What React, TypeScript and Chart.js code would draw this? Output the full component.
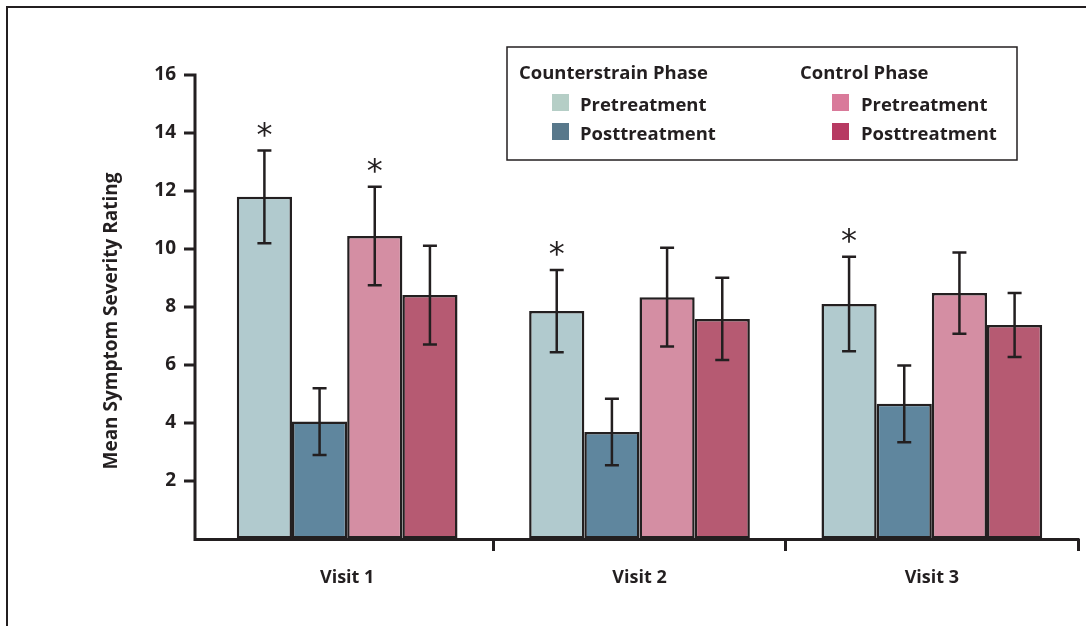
import React, { useEffect, useRef } from "react";
import { Chart, registerables } from "chart.js";

Chart.register(...registerables);

const visits = ["Visit 1", "Visit 2", "Visit 3"];
const yTicks = [2, 4, 6, 8, 10, 12, 14, 16];

const csPre = [11.8, 7.86, 8.1];
const csPreErr = [1.6, 1.42, 1.63];
const csPost = [4.05, 3.69, 4.66];
const csPostErr = [1.15, 1.15, 1.32];
const ctPre = [10.45, 8.34, 8.48];
const ctPreErr = [1.7, 1.7, 1.4];
const ctPost = [8.41, 7.59, 7.38];
const ctPostErr = [1.7, 1.42, 1.1];

const csPreSig = [true, true, true];
const csPostSig = [false, false, false];
const ctPreSig = [true, false, false];
const ctPostSig = [false, false, false];

const seriesLabels = ["Pretreatment", "Posttreatment", "Pretreatment", "Posttreatment"];
const groupTitles = ["Counterstrain Phase", "Control Phase"];
const yTitle = "Mean Symptom Severity Rating";

const barColors = ["#b1cace", "#5f869e", "#d48ea3", "#b65a72"];
const swatchColors = ["#b5cec6", "#58788b", "#d97a9a", "#b73a62"];
const INK = "#231f20";
const FONT = "'Open Sans', 'DejaVu Sans', sans-serif";

const errs = [csPreErr, csPostErr, ctPreErr, ctPostErr];
const sigs = [csPreSig, csPostSig, ctPreSig, ctPostSig];

const AXIS_X = 195;

const overlayPlugin = {
  id: "overlay",
  beforeDraw(chart: any) {
    const ctx = chart.ctx;
    ctx.save();
    ctx.fillStyle = "#ffffff";
    ctx.fillRect(0, 0, chart.width, chart.height);
    ctx.restore();
  },
  afterDraw(chart: any) {
    const ctx = chart.ctx;
    const yScale = chart.scales.y;
    const area = chart.chartArea;
    ctx.save();
    // outer frame (top & left)
    ctx.strokeStyle = INK;
    ctx.lineWidth = 2;
    ctx.beginPath();
    ctx.moveTo(7, chart.height);
    ctx.lineTo(7, 7);
    ctx.lineTo(chart.width, 7);
    ctx.stroke();

    // axes lines and y ticks
    const by = Math.round(area.bottom - 1.5) + 1.5;
    ctx.lineWidth = 3;
    ctx.beginPath();
    ctx.moveTo(AXIS_X, yScale.getPixelForValue(16) - 1.5);
    ctx.lineTo(AXIS_X, by + 1.5);
    ctx.moveTo(AXIS_X - 1.5, by);
    ctx.lineTo(area.right + 1.5, by);
    yTicks.forEach((v) => {
      const y = yScale.getPixelForValue(v);
      ctx.moveTo(AXIS_X - 11, y);
      ctx.lineTo(AXIS_X, y);
    });
    ctx.stroke();

    // error bars + asterisks
    chart.data.datasets.forEach((ds: any, di: number) => {
      const meta = chart.getDatasetMeta(di);
      meta.data.forEach((bar: any, i: number) => {
        const v = ds.data[i];
        const e = errs[di][i];
        const x = bar.x;
        const yt = yScale.getPixelForValue(v + e);
        const yb = yScale.getPixelForValue(v - e);
        ctx.strokeStyle = INK;
        ctx.lineWidth = 2.5;
        ctx.beginPath();
        ctx.moveTo(x, yt);
        ctx.lineTo(x, yb);
        ctx.moveTo(x - 7, yt);
        ctx.lineTo(x + 7, yt);
        ctx.moveTo(x - 7, yb);
        ctx.lineTo(x + 7, yb);
        ctx.stroke();
        if (sigs[di][i]) {
          ctx.fillStyle = INK;
          ctx.font = `400 32px 'DejaVu Sans', sans-serif`;
          ctx.textAlign = "center";
          ctx.textBaseline = "alphabetic";
          const m = ctx.measureText("*");
          const h = m.actualBoundingBoxAscent - m.actualBoundingBoxDescent;
          const cy = yt - 13;
          ctx.fillText("*", x, cy + m.actualBoundingBoxAscent - h / 2);
        }
      });
    });

    // y-axis title
    ctx.save();
    ctx.translate(112, 321);
    ctx.rotate(-Math.PI / 2);
    ctx.fillStyle = INK;
    ctx.font = `700 19px ${FONT}`;
    ctx.textAlign = "center";
    ctx.textBaseline = "middle";
    ctx.fillText(yTitle, 0, 0);
    ctx.restore();

    // legend box
    ctx.strokeStyle = INK;
    ctx.lineWidth = 1.5;
    ctx.strokeRect(507, 47, 510, 113);
    ctx.textAlign = "left";
    ctx.textBaseline = "alphabetic";
    ctx.font = `700 19px ${FONT}`;
    const wRef = ctx.measureText(groupTitles[0]).width;
    const fs = (19 * 189) / wRef;
    ctx.font = `700 ${fs}px ${FONT}`;
    const colX = [519, 800];
    const swX = [552, 832];
    const txX = [580, 861];
    groupTitles.forEach((t, g) => {
      ctx.fillStyle = INK;
      ctx.fillText(t, colX[g], 79);
      for (let k = 0; k < 2; k++) {
        const idx = g * 2 + k;
        const sy = k === 0 ? 94 : 123;
        ctx.fillStyle = swatchColors[idx];
        ctx.fillRect(swX[g], sy, 17, 17);
        ctx.fillStyle = INK;
        ctx.fillText(seriesLabels[idx], txX[g], k === 0 ? 111 : 140);
      }
    });
    ctx.restore();
  },
};

export default function App() {
  const ref = useRef<HTMLCanvasElement>(null);
  useEffect(() => {
    document.body.style.margin = "0";
    const datasets = [csPre, csPost, ctPre, ctPost].map((d, i) => ({
      label: seriesLabels[i],
      data: d,
      backgroundColor: barColors[i],
      borderColor: INK,
      borderWidth: 2.5,
      borderSkipped: false,
      categoryPercentage: 0.755,
      barPercentage: 1,
    }));
    const chart = new Chart(ref.current as HTMLCanvasElement, {
      type: "bar",
      data: { labels: visits, datasets },
      options: {
        responsive: false,
        animation: false,
        layout: { padding: { top: 75, right: 8, left: 0, bottom: 0 } },
        plugins: { legend: { display: false }, tooltip: { enabled: false } },
        scales: {
          x: {
            afterFit: (s: any) => {
              s.height = 87;
            },
            grid: {
              offset: true,
              drawOnChartArea: false,
              drawTicks: true,
              tickLength: 12,
              tickWidth: 3,
              lineWidth: 3,
              color: (c: any) => (c.type === "tick" && c.index === 0 ? "rgba(0,0,0,0)" : INK),
            },
            border: { display: false },
            ticks: {
              color: INK,
              padding: 16,
              font: { family: FONT, size: 18, weight: "bold" },
            },
          },
          y: {
            min: 0,
            max: 16,
            afterFit: (s: any) => {
              s.width = 201;
            },
            afterBuildTicks: (s: any) => {
              s.ticks = [0, ...yTicks].map((v) => ({ value: v }));
            },
            grid: {
              drawOnChartArea: false,
              drawTicks: false,
            },
            border: { display: false },
            ticks: {
              color: INK,
              padding: 25,
              font: { family: FONT, size: 19, weight: "bold" },
              callback: (v: any) => (v === 0 ? "" : String(v)),
            },
          },
        },
      },
      plugins: [overlayPlugin],
    });
    return () => chart.destroy();
  }, []);
  return <canvas ref={ref} width={1086} height={626} style={{ display: "block" }} />;
}
